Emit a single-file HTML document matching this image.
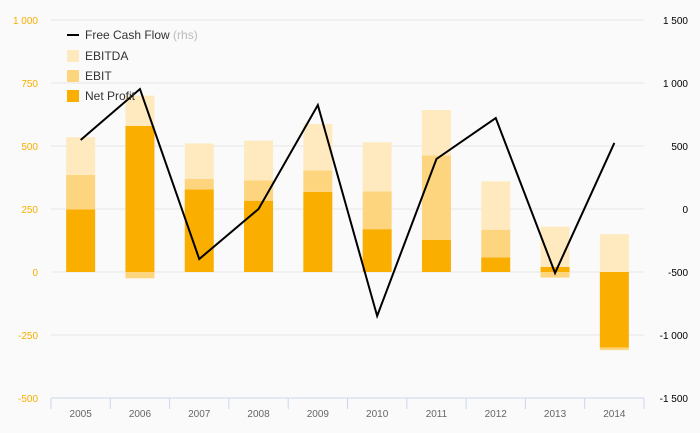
<!DOCTYPE html>
<html><head><meta charset="utf-8"><style>
body{margin:0;background:#fafafa;}
svg{display:block;font-family:"Liberation Sans",sans-serif;}
</style></head><body>
<svg id="c" width="700" height="433">
<rect width="700" height="433" fill="#fafafa"/>
<g id="grid"></g><g id="bars"></g><g id="line"></g><g id="axes"></g>
<g font-size="12" fill="#333">
 <g><line x1="67" x2="79" y1="35" y2="35" stroke="#000" stroke-width="2"/><text x="85" y="39">Free Cash Flow <tspan fill="#bbb">(rhs)</tspan></text></g>
 <g><rect x="67" y="50" width="12" height="12" fill="#ffeac0"/><text x="85" y="60">EBITDA</text></g>
 <g><rect x="67" y="70" width="12" height="12" fill="#fdd57f"/><text x="85" y="80">EBIT</text></g>
 <g><rect x="67" y="90" width="12" height="12" fill="#f9ae00"/><text x="85" y="100">Net Profit</text></g>
</g>
</svg>
<script>
const categories=["2005","2006","2007","2008","2009","2010","2011","2012","2013","2014"];
const netProfit=[248,580,328,283,318,170,128,58,20,-300];
const ebit=[137,-25,42,80,85,150,335,110,-22,-10];
const ebitda=[150,120,140,158,185,195,180,192,160,150];
const fcf=[548,952,-397,0,825,-849,397,722,-508,524];
const leftTicks=[1000,750,500,250,0,-250,-500];
const rightTicks=[1500,1000,500,0,-500,-1000,-1500];
const NS="http://www.w3.org/2000/svg";
const X0=51,X1=644,TOP=20,BOT=398;
const yL=v=>TOP+(1000-v)/1500*(BOT-TOP);
const yR=v=>TOP+(1500-v)/3000*(BOT-TOP);
const bw=(X1-X0)/categories.length;
const xc=i=>X0+bw*(i+0.5);
function mk(t,a,p){const e=document.createElementNS(NS,t);for(const k in a)e.setAttribute(k,a[k]);p.appendChild(e);return e;}
const grid=document.getElementById('grid'),axes=document.getElementById('axes'),bars=document.getElementById('bars'),line=document.getElementById('line');
leftTicks.forEach(v=>{
 if(v!==-500){const g=mk('line',{x1:X0,x2:X1,y1:yL(v),y2:yL(v),stroke:'#e6e6e6'},grid);
 
 }
 const t=mk('text',{x:38,y:yL(v)+4,'text-anchor':'end','font-size':'10',fill:'#f9ae00'},axes);
 t.textContent=String(v).replace(/\B(?=(\d{3})+$)/,' ');
 
 
});
rightTicks.forEach(v=>{
 const t=mk('text',{x:688,y:yR(v)+4,'text-anchor':'end','font-size':'10',fill:'#000'},axes);
 t.textContent=String(v).replace(/\B(?=(\d{3})+$)/,' ');
 
 
});
const ax=mk('line',{x1:X0,x2:X1,y1:BOT,y2:BOT,stroke:'#ccd6eb'},axes);


for(let i=0;i<=categories.length;i++){const tk=mk('line',{x1:X0+bw*i,x2:X0+bw*i,y1:BOT,y2:BOT+11,stroke:'#ccd6eb'},axes);
 
 }
categories.forEach((c,i)=>{
 const t=mk('text',{x:xc(i),y:417,'text-anchor':'middle','font-size':'10',fill:'#666'},axes);
 t.textContent=c;
 
 
 let pos=0,neg=0;
 [[netProfit,'#f9ae00','net-profit'],[ebit,'#fdd57f','ebit'],[ebitda,'#ffeac0','ebitda']].forEach(([arr,col,nm])=>{
  const v=arr[i];let a,b;
  if(v>=0){a=pos;b=pos+v;pos=b;}else{a=neg;b=neg+v;neg=b;}
  const y1=yL(Math.max(a,b)),y2=yL(Math.min(a,b));
  const r=mk('rect',{x:xc(i)-14.5,y:y1,width:29,height:Math.max(0,y2-y1),fill:col},bars);
  
  
 });
});
const p=mk('polyline',{points:fcf.map((v,i)=>xc(i)+','+yR(v)).join(' '),fill:'none',stroke:'#000','stroke-width':2},line);


</script>
</body></html>
